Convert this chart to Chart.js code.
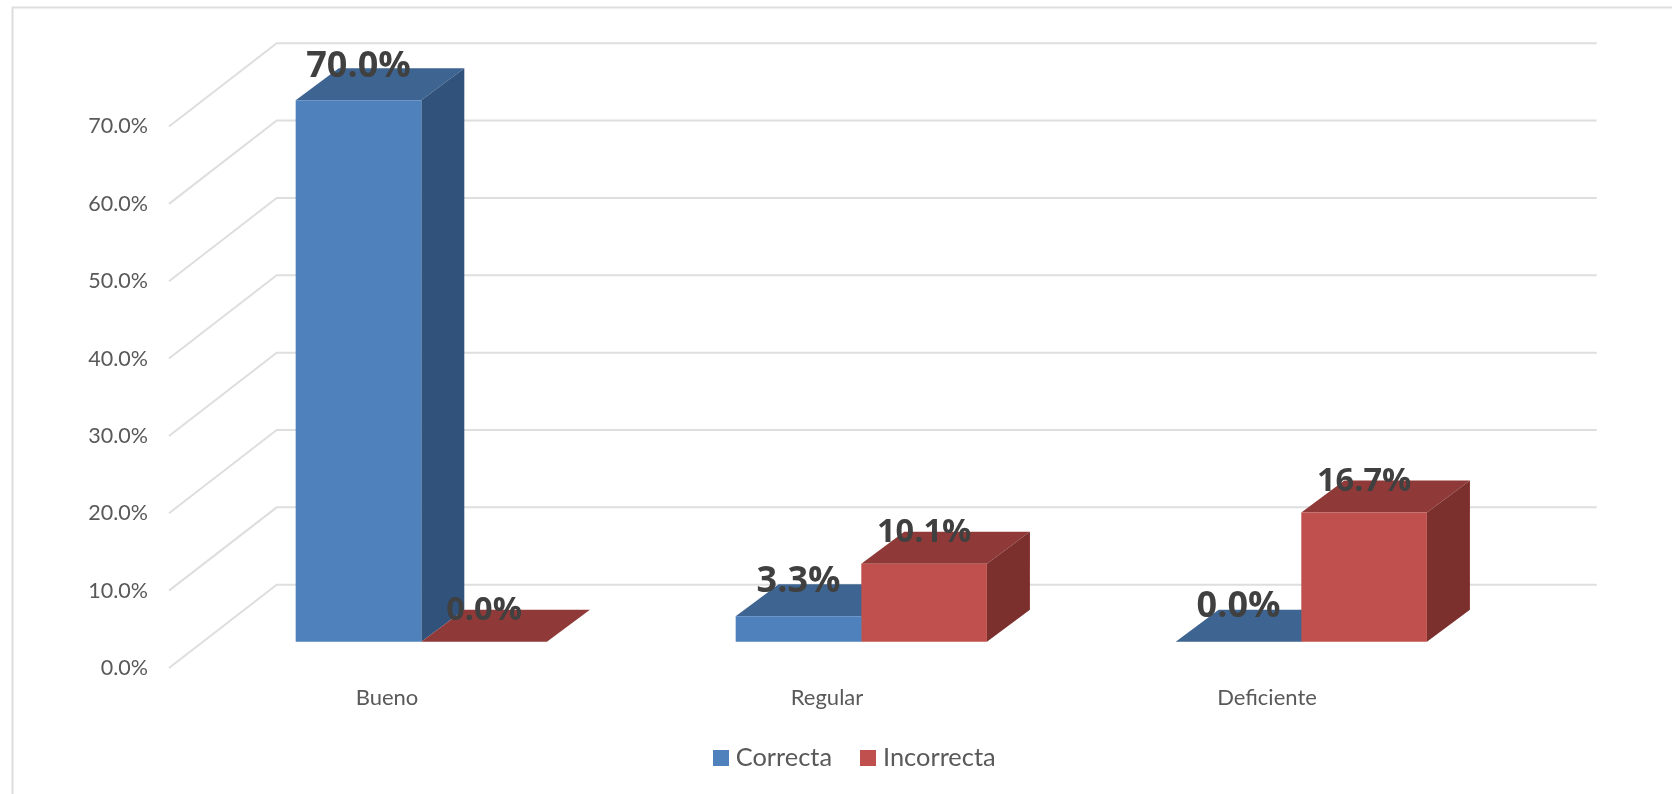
<!DOCTYPE html>
<html><head><meta charset="utf-8">
<style>html,body{margin:0;padding:0;background:#fff}canvas{display:block}</style>
<script src="https://cdn.jsdelivr.net/npm/chart.js@4"></script>
</head><body><canvas id="c" width="1672" height="794"></canvas>
<script>
const categories = ["Bueno", "Regular", "Deficiente"];
const correcta = [70.0, 3.3, 0.0];
const incorrecta = [0.0, 10.1, 16.7];
const seriesNames = ["Correcta", "Incorrecta"];
const frontColors = ["#4F81BD", "#C0504D"];
const topColors = ["#3E6491", "#8F3A38"];
const sideColors = ["#30527B", "#7C302E"];
const labelLift = [[34, 34.5, 35.5], [31, 31, 31]];
const labelSizes = [36, 32.5];

const FONT = "Lato, 'Open Sans', sans-serif";
const BOLD_FONT = "'Open Sans', Lato, sans-serif";
const GRID = "#DEDEDE";
const WALL = {dx: 107.7, dy: 83.3};   // depth of back wall
const PLANE = {dx: 32.3, dy: 26.2};   // bars stand mid-way in the floor
const BAR = {dx: 43, dy: 32};         // depth of each bar

function swatch(color) {
  const s = document.createElement("canvas");
  s.width = 16; s.height = 16;
  const g = s.getContext("2d");
  g.fillStyle = color; g.fillRect(0, 0, 16, 16);
  return s;
}
const swatches = frontColors.map(swatch);

const scene = {
  id: "scene",
  afterLayout(chart) {
    const l = chart.legend;
    const p = l.options.labels.padding;
    l.left = 719 - p; l.right = 1672; l.top = 745.3 - p;
  },
  beforeDraw(chart) {
    const {ctx, chartArea: a, scales: {y}} = chart;
    ctx.save();
    ctx.strokeStyle = GRID; ctx.lineWidth = 2;
    ctx.beginPath(); ctx.moveTo(12.5, 794); ctx.lineTo(12.5, 7.5); ctx.lineTo(1672, 7.5); ctx.stroke();
    y.ticks.forEach(t => {
      const py = y.getPixelForValue(t.value);
      ctx.beginPath();
      ctx.moveTo(a.left, py);
      ctx.lineTo(a.left + WALL.dx, py - WALL.dy);
      ctx.lineTo(a.right + WALL.dx, py - WALL.dy);
      ctx.stroke();
    });
    ctx.restore();
  },
  beforeDatasetsDraw(chart) {
    const ctx = chart.ctx;
    ctx.save();
    ctx.translate(PLANE.dx, -PLANE.dy);
    chart.data.datasets.forEach((ds, d) => {
      chart.getDatasetMeta(d).data.forEach(bar => {
        const L = bar.x - bar.width / 2, R = bar.x + bar.width / 2;
        ctx.fillStyle = topColors[d];
        ctx.beginPath();
        ctx.moveTo(L, bar.y); ctx.lineTo(L + BAR.dx, bar.y - BAR.dy);
        ctx.lineTo(R + BAR.dx, bar.y - BAR.dy); ctx.lineTo(R, bar.y);
        ctx.closePath(); ctx.fill();
        ctx.fillStyle = sideColors[d];
        ctx.beginPath();
        ctx.moveTo(R, bar.y); ctx.lineTo(R + BAR.dx, bar.y - BAR.dy);
        ctx.lineTo(R + BAR.dx, bar.base - BAR.dy); ctx.lineTo(R, bar.base);
        ctx.closePath(); ctx.fill();
      });
    });
  },
  afterDatasetsDraw(chart) {
    const ctx = chart.ctx;
    ctx.fillStyle = "#404040";
    ctx.textAlign = "center";
    ctx.textBaseline = "middle";
    chart.data.datasets.forEach((ds, d) => {
      ctx.font = "bold " + labelSizes[d] + "px " + BOLD_FONT;
      chart.getDatasetMeta(d).data.forEach((bar, i) => {
        ctx.fillText(ds.data[i].toFixed(1) + "%", bar.x, bar.y - labelLift[d][i]);
      });
    });
    ctx.restore();
  }
};

new Chart(document.getElementById("c"), {
  type: "bar",
  data: {
    labels: categories,
    datasets: [
      {label: seriesNames[0], data: correcta, backgroundColor: frontColors[0], clip: false},
      {label: seriesNames[1], data: incorrecta, backgroundColor: frontColors[1], clip: false}
    ]
  },
  options: {
    responsive: false,
    animation: false,
    devicePixelRatio: 1,
    layout: {padding: {left: 69, right: 183, top: 126.5, bottom: 0}},
    datasets: {bar: {barPercentage: 1, categoryPercentage: 0.571, borderWidth: 0}},
    plugins: {
      tooltip: {enabled: false},
      legend: {
        position: "bottom",
        align: "start",
        labels: {
          usePointStyle: true,
          pointStyleWidth: 4,
          boxHeight: 16,
          padding: 34.3,
          color: "#595959",
          font: {family: FONT, size: 25.4},
          generateLabels(chart) {
            return Chart.defaults.plugins.legend.labels.generateLabels(chart)
              .map((it, i) => Object.assign(it, {pointStyle: swatches[i]}));
          }
        }
      }
    },
    scales: {
      x: {
        grid: {display: false, drawTicks: false},
        border: {display: false},
        afterFit(s) { s.height = 126 - (s.chart.legend ? s.chart.legend.height : 0); },
        ticks: {color: "#595959", font: {family: FONT, size: 22}, padding: 17, maxRotation: 0, labelOffset: -2}
      },
      y: {
        min: 0, max: 70,
        grid: {display: false, drawTicks: false},
        border: {display: false},
        afterFit(s) { s.width = 100; },
        ticks: {
          stepSize: 10, color: "#595959", padding: 21,
          font: {family: FONT, size: 21.5},
          callback: v => v.toFixed(1) + "%"
        }
      }
    }
  },
  plugins: [scene]
});
</script></body></html>
